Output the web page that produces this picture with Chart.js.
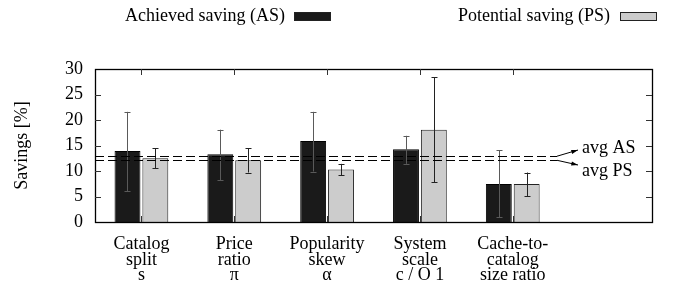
<!DOCTYPE html>
<html>
<head>
<meta charset="utf-8">
<script src="https://cdn.jsdelivr.net/npm/chart.js@4"></script>
<style>
  html, body { margin: 0; padding: 0; background: #fff; }
  #wrap { width: 680px; height: 294px; }
</style>
</head>
<body>
<div id="wrap"><canvas id="savings" width="680" height="294"></canvas></div>
<script>
// categories (last slot is left empty, like the original plot)
let categories = [
  ["Catalog", "split", "s"],
  ["Price", "ratio", "π"],
  ["Popularity", "skew", "α"],
  ["System", "scale", "c / O 1"],
  ["Cache-to-", "catalog", "size ratio"],
  "",
];

let asValues = [13.9, 13.3, 15.9, 14.25, 7.45, null];
let asLow = [6.0, 8.2, 9.9, 11.4, 0.9];
let asHigh = [21.6, 18.1, 21.6, 16.9, 14.1];

let psValues = [12.5, 12.1, 10.3, 18.1, 7.45, null];
let psLow = [10.5, 9.7, 9.2, 7.8, 5.1];
let psHigh = [14.45, 14.45, 11.4, 28.4, 9.7];

let avgAS = 12.9;
let avgPS = 12.1;

let yTicks = [0, 5, 10, 15, 20, 25, 30];

let serif = "'Liberation Serif', 'DejaVu Serif', serif";

let errorBars = {
  id: "errorBars",
  afterDatasetsDraw: function (chart) {
    let ctx = chart.ctx;
    let y = chart.scales.y;
    let sets = [[asLow, asHigh], [psLow, psHigh]];
    ctx.save();
    ctx.lineWidth = 1;
    sets.forEach(function (s, di) {
      let meta = chart.getDatasetMeta(di);
      ctx.strokeStyle = di === 0 ? "#5a5a5a" : "#222";
      s[0].forEach(function (lo, i) {
        let bar = meta.data[i];
        if (!bar) return;
        let x = Math.round(bar.x) + 0.5;
        let y1 = y.getPixelForValue(lo);
        let y2 = y.getPixelForValue(s[1][i]);
        ctx.beginPath();
        ctx.moveTo(x, y1);
        ctx.lineTo(x, y2);
        ctx.moveTo(x - 3, Math.round(y1) + 0.5);
        ctx.lineTo(x + 3, Math.round(y1) + 0.5);
        ctx.moveTo(x - 3, Math.round(y2) + 0.5);
        ctx.lineTo(x + 3, Math.round(y2) + 0.5);
        ctx.stroke();
      });
    });
    ctx.restore();
  },
};

let frame = {
  id: "frame",
  afterDraw: function (chart) {
    let ctx = chart.ctx;
    let a = chart.chartArea;
    let x = chart.scales.x;
    let y = chart.scales.y;
    ctx.save();
    ctx.strokeStyle = "#000";
    ctx.lineWidth = 1.3;
    ctx.strokeRect(Math.round(a.left) + 0.5, Math.round(a.top) + 0.5,
      Math.round(a.right - a.left), Math.round(a.bottom - a.top));

    ctx.lineWidth = 1;
    ctx.strokeStyle = "#333";
    ctx.beginPath();
    // x ticks, top and bottom, only on labelled categories
    categories.forEach(function (c, i) {
      if (!c) return;
      let px = Math.round(x.getPixelForValue(i)) + 0.5;
      ctx.moveTo(px, a.top);
      ctx.lineTo(px, a.top + 6);
      ctx.moveTo(px, a.bottom);
      ctx.lineTo(px, a.bottom - 6);
    });
    // y ticks, left and right
    yTicks.slice(1, -1).forEach(function (v) {
      let py = Math.round(y.getPixelForValue(v)) + 0.5;
      ctx.moveTo(a.left, py);
      ctx.lineTo(a.left + 6, py);
      ctx.moveTo(a.right, py);
      ctx.lineTo(a.right - 6, py);
    });
    ctx.stroke();

    // average lines
    let endX = 557;
    ctx.strokeStyle = "#000";
    ctx.setLineDash([9, 4]);
    [avgAS, avgPS].forEach(function (v) {
      let py = Math.round(y.getPixelForValue(v)) + 0.5;
      ctx.beginPath();
      ctx.moveTo(a.left, py);
      ctx.lineTo(endX, py);
      ctx.stroke();
    });
    ctx.setLineDash([]);

    // arrows to the labels
    let arrows = [[avgAS, 150], [avgPS, 165]];
    arrows.forEach(function (ar) {
      let y0 = y.getPixelForValue(ar[0]);
      let x1 = 578, y1 = ar[1];
      ctx.beginPath();
      ctx.moveTo(endX, y0);
      ctx.lineTo(x1, y1);
      ctx.stroke();
      let ang = Math.atan2(y1 - y0, x1 - endX);
      ctx.beginPath();
      ctx.moveTo(x1, y1);
      ctx.lineTo(x1 - 7 * Math.cos(ang - 0.3), y1 - 7 * Math.sin(ang - 0.3));
      ctx.lineTo(x1 - 7 * Math.cos(ang + 0.3), y1 - 7 * Math.sin(ang + 0.3));
      ctx.closePath();
      ctx.fillStyle = "#000";
      ctx.fill();
    });

    ctx.fillStyle = "#000";
    ctx.font = "18px " + serif;
    ctx.textAlign = "left";
    ctx.textBaseline = "middle";
    ctx.fillText("avg AS", 582, 148);
    ctx.fillText("avg PS", 582, 171);

    // y axis title
    ctx.save();
    ctx.translate(22, (a.top + a.bottom) / 2);
    ctx.rotate(-Math.PI / 2);
    ctx.textAlign = "center";
    ctx.fillText("Savings [%]", 0, 0);
    ctx.restore();

    // key: text then sample box (gnuplot style)
    let key = [
      ["Achieved saving (AS)", 285, 294, "#1a1a1a"],
      ["Potential saving (PS)", 610, 620, "#cccccc"],
    ];
    key.forEach(function (k) {
      ctx.textAlign = "right";
      ctx.fillStyle = "#000";
      ctx.fillText(k[0], k[1], 16);
      ctx.fillStyle = k[3];
      ctx.fillRect(k[2], 12, 36, 8);
      ctx.strokeStyle = "#222";
      ctx.strokeRect(k[2] + 0.5, 12.5, 36, 8);
    });
    ctx.restore();
  },
};

new Chart(document.getElementById("savings").getContext("2d"), {
  type: "bar",
  data: {
    labels: categories,
    datasets: [
      {
        label: "Achieved saving (AS)",
        data: asValues,
        backgroundColor: "#1a1a1a",
        borderColor: "#000",
        borderWidth: 1,
        categoryPercentage: 0.6,
        barPercentage: 0.93,
      },
      {
        label: "Potential saving (PS)",
        data: psValues,
        backgroundColor: "#cccccc",
        borderColor: "#222",
        borderWidth: 1,
        categoryPercentage: 0.6,
        barPercentage: 0.93,
      },
    ],
  },
  options: {
    responsive: false,
    animation: false,
    layout: { padding: { top: 69, right: 28, left: 0, bottom: 0 } },
    plugins: {
      legend: { display: false },
      tooltip: { enabled: false },
    },
    scales: {
      x: {
        grid: { display: false, drawTicks: false },
        border: { display: false },
        ticks: {
          color: "#000",
          padding: 15,
          maxRotation: 0,
          autoSkip: false,
          font: { family: serif, size: 18, lineHeight: 0.85 },
        },
        afterFit: function (s) { s.height = 72; },
      },
      y: {
        min: 0,
        max: 30,
        grid: { display: false, drawTicks: false },
        border: { display: false },
        ticks: {
          stepSize: 5,
          color: "#000",
          padding: 12,
          font: { family: serif, size: 18 },
        },
        afterFit: function (s) { s.width = 95; },
      },
    },
  },
  plugins: [errorBars, frame],
});
</script>
</body>
</html>
